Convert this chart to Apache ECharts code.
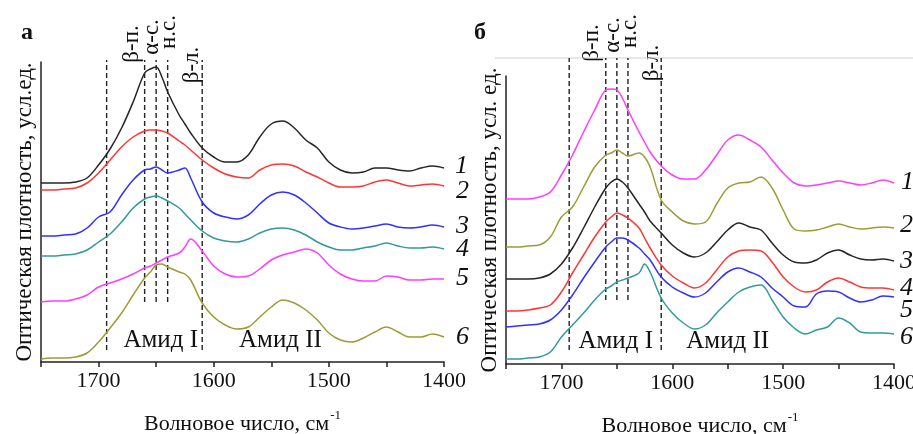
<!DOCTYPE html>
<html><head><meta charset="utf-8">
<script src="https://cdn.jsdelivr.net/npm/echarts@6/dist/echarts.min.js"></script>
<style>html,body{margin:0;padding:0;background:#fff}#c{width:913px;height:434px}</style>
</head><body><div id="c"></div>
<script>
// ---- data ----
const wavenumbers = [1750,1740,1730,1720,1710,1700,1690,1680,1670,1660,1655,1650,1645,1640,1630,1625,1620,1610,1600,1590,1580,1570,1560,1550,1540,1530,1520,1510,1500,1490,1480,1470,1460,1450,1440,1430,1420,1410,1400];

// panel а (offset spectra, arbitrary units)
const a1 = [179,179,179,180,184,197,213,234,260,289,293,295,285,270,247,238,229,214,205,200,200,207,225,238,241,234,222,214,200,192,189,190,194,194,192,191,194,196,194];
const a2 = [172,172,173,174,179,189,202,215,225,231,232,232,231,229,221,217,212,202,194,188,185,184,192,197,198,196,190,185,179,175,175,176,180,182,179,176,177,178,176];
const a3 = [126,126,127,128,134,145,150,167,182,192,193,195,192,189,192,194,184,160,149,145,143,147,158,167,170,167,159,149,139,135,133,134,136,138,135,134,135,137,135];
const a4 = [106,106,107,108,112,120,128,140,154,163,165,166,164,161,154,148,142,131,124,121,120,123,129,133,134,132,127,120,115,112,112,114,116,119,116,114,114,115,113];
const a5 = [60,61,61,63,67,75,79,83,88,94,96,99,102,105,109,115,123,111,96,88,85,86,93,102,107,110,113,109,97,88,83,81,81,86,85,82,82,83,83];
const a6 = [3,4,4,5,9,20,34,49,67,84,90,97,98,95,90,88,82,59,45,37,33,35,45,55,62,59,52,42,29,22,20,24,30,35,30,25,25,28,25];

// panel б
const b1 = [165,165,165,167,172,189,209,232,254,274,275,274,266,254,232,222,212,198,189,185,185,194,209,224,229,224,217,204,191,181,178,179,181,183,181,179,181,184,181];
const b2 = [117,117,118,119,127,147,157,177,197,209,211,214,211,208,211,207,197,164,152,143,140,142,160,176,181,182,187,176,154,135,133,134,137,140,137,135,136,137,136];
const b3 = [85,85,85,86,90,100,116,136,157,176,182,185,182,176,160,152,143,131,119,111,107,111,122,134,141,137,134,121,109,102,101,104,111,114,109,105,104,105,103];
const b4 = [53,53,54,56,59,72,91,109,127,142,147,151,149,146,136,126,116,99,88,81,76,81,94,107,113,114,113,102,87,77,72,74,82,86,82,77,76,76,74];
const b5 = [37,38,39,40,44,54,69,86,102,117,122,126,126,124,116,110,104,87,77,71,67,71,82,92,96,92,87,76,67,58,57,70,73,72,66,62,64,68,67];
const b6 = [5,5,6,7,12,27,39,51,64,75,78,82,84,86,91,100,92,66,51,41,35,39,51,62,72,77,79,64,47,36,30,34,37,46,41,32,31,31,30];

const curveNames = ['1','2','3','4','5','6'];
const bandPositions = [1693, 1660, 1650, 1640, 1610];
const bandLabels = ['β-п.', 'α-с.', 'н.с.', 'β-л.'];   // at 1660, 1650, 1640, 1610
const xTickLabels = [1700, 1600, 1500, 1400];
const amideLabels = ['Амид I', 'Амид II'];
const xTitle = 'Волновое число, см';
const xTitleSup = '-1';
const yTitleA = 'Оптическая плотность, усл.ед.';
const yTitleB = 'Оптическая плотность, усл. ед.';
const panelLetters = ['а', 'б'];

// ---- styles ----
const FONT = "'Liberation Serif','Times New Roman',serif";
const colorsA = ['#262626','#ff3535','#3030ff','#339a9a','#ff3cff','#9c9c36'];
const colorsB = ['#ff3cff','#9c9c36','#262626','#ff3535','#3030ff','#339a9a'];
const endOffA = [[11,-2],[12,5],[12,-1],[12,0],[12,-1],[12,0]];
const endOffB = [[7,-1],[6,-3],[6,0],[6,-2],[6,13],[6,3]];

function zip(vals){ return wavenumbers.map((w,i)=>[w, vals[i]]); }

function xAxisCfg(gi){
  return {
    gridIndex: gi, type:'value', inverse:true, min:1400, max:1750, interval:50,
    axisLine:{show:true, onZero:false, lineStyle:{color:'#222', width:1.5}},
    axisTick:{show:true, inside:false, length:5, lineStyle:{color:'#222', width:1.5}},
    axisLabel:{show:true, margin:8, fontSize:22, fontFamily:FONT, color:'#111',
      formatter: v => xTickLabels.includes(v) ? String(v) : ''},
    splitLine:{show:false},
    name: '{m|' + xTitle + '}{s|' + xTitleSup + '}',
    nameLocation:'middle', nameGap:47,
    nameTextStyle:{fontFamily:FONT, color:'#111',
      rich:{ m:{fontSize:22, fontFamily:FONT, color:'#111', lineHeight:26, verticalAlign:'bottom'},
             s:{fontSize:13, fontFamily:FONT, color:'#111', lineHeight:26, verticalAlign:'top', padding:[0,0,0,1]} } }
  };
}
function yAxisCfg(gi, max, name, gap){
  return {
    gridIndex: gi, type:'value', min:0, max:max,
    axisLine:{show:true, lineStyle:{color:'#222', width:1.5}},
    axisTick:{show:false}, axisLabel:{show:false}, splitLine:{show:false},
    name:name, nameLocation:'middle', nameRotate:90, nameGap:gap,
    nameTextStyle:{fontSize:23, fontFamily:FONT, color:'#111'}
  };
}

const series = [];
[[a1,a2,a3,a4,a5,a6],[b1,b2,b3,b4,b5,b6]].forEach((set, gi) => {
  const cols = gi===0 ? colorsA : colorsB;
  const offs = gi===0 ? endOffA : endOffB;
  set.forEach((vals, i) => {
    series.push({
      type:'line', xAxisIndex:gi, yAxisIndex:gi, data: zip(vals),
      smooth:0.35, symbol:'none', clip:false,
      lineStyle:{color:cols[i], width:1.5},
      endLabel:{show:true, formatter:curveNames[i], distance:0, offset:offs[i],
        fontSize:26, fontStyle:'italic', fontFamily:FONT, color:'#111', align:'left'},
      z:3
    });
  });
});
// dashed band lines
const bandExt = [[[12,302],[60,302],[60,302],[60,302],[12,302]], [[14,306],[64,306],[64,306],[64,306],[14,306]]];
[0,1].forEach(gi => {
  bandPositions.forEach((w, k) => {
    const e = bandExt[gi][k];
    series.push({type:'line', xAxisIndex:gi, yAxisIndex:gi, data:[[w,e[0]],[w,e[1]]],
      symbol:'none', clip:false, silent:true,
      lineStyle:{color:'#222', width:1.4, type:[5,3]}, z:2});
  });
});

const chart = echarts.init(document.getElementById('c'));
chart.setOption({
  animation:false, backgroundColor:'#fff',
  grid:[{left:41, top:62, width:403, height:300, containLabel:false, outerBoundsMode:'none'},
        {left:506, top:76, width:388, height:288, containLabel:false, outerBoundsMode:'none'}],
  xAxis:[xAxisCfg(0), xAxisCfg(1)],
  yAxis:[yAxisCfg(0, 300, yTitleA, 5), yAxisCfg(1, 288, yTitleB, 5)],
  series: series
});

// annotations positioned from axes
function px(gi, w){ return chart.convertToPixel({xAxisIndex:gi}, w); }
const g = [];
const txt = (x,y,t,opts) => Object.assign({type:'text', x:x, y:y, silent:true,
  style:Object.assign({text:t, fontFamily:FONT, fontSize:22, fill:'#111', align:'center', verticalAlign:'middle'}, opts||{})});
// band labels (rotated)
const lblA = [[1660,-13,44],[1650,-4,37],[1640,1.5,32],[1610,-10,65]];
const lblB = [[1660,-14,43],[1650,-4,35],[1640,2,31],[1610,-9,63]];
[lblA, lblB].forEach((set, gi) => set.forEach((d, k) => {
  const t = txt(px(gi, d[0]) + d[1], d[2], bandLabels[k], {fontSize:23});
  t.rotation = Math.PI/2; g.push(t);
}));
// amide labels
g.push(txt(px(0,1646), 340, amideLabels[0], {fontSize:25}));
g.push(txt(px(0,1542), 340, amideLabels[1], {fontSize:25}));
g.push(txt(px(1,1651), 341, amideLabels[0], {fontSize:25}));
g.push(txt(px(1,1550), 341, amideLabels[1], {fontSize:25}));
// panel letters
g.push(txt(27, 33, panelLetters[0], {fontSize:24, fontWeight:'bold'}));
g.push(txt(480, 33, panelLetters[1], {fontSize:24, fontWeight:'bold'}));
// faint top rule of panel б
g.push({type:'line', silent:true, shape:{x1:495, y1:58, x2:913, y2:58}, style:{stroke:'#cfcfcf', lineWidth:1}});
chart.setOption({graphic: g});
</script></body></html>
